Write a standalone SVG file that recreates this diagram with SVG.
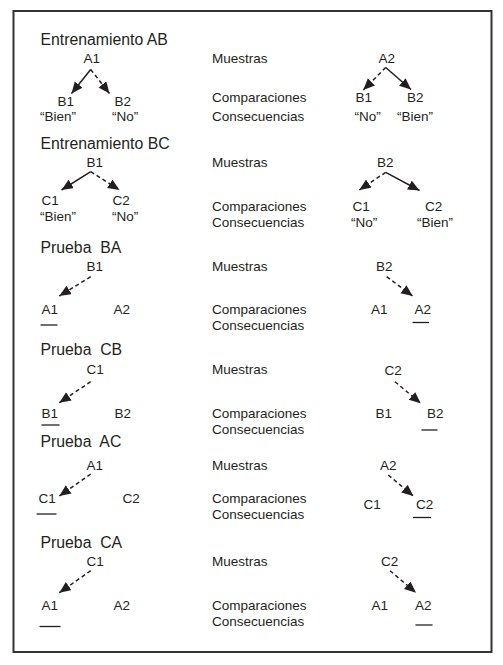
<svg xmlns="http://www.w3.org/2000/svg" width="503" height="665" viewBox="0 0 503 665">
<defs>
<marker id="ah" markerUnits="userSpaceOnUse" markerWidth="13" markerHeight="11" refX="11.5" refY="5" orient="auto">
<path d="M0,0 L11.5,5 L0,10 z" fill="#231f20"/>
</marker>
</defs>
<style>
text{font-family:"Liberation Sans",Arial,sans-serif;fill:#231f20}
.t{font-size:15.8px}
.l{font-size:13.5px}
.s{stroke:#231f20;stroke-width:1.5;fill:none}
.d{stroke-dasharray:4 3}
.u{stroke:#231f20;stroke-width:1.3}
</style>
<rect x="13.5" y="11" width="478" height="641" fill="#fff" stroke="#333" stroke-width="2"/>

<g id="trainAB">
<text class="t" x="40.5" y="45">Entrenamiento AB</text>
<text class="l" x="83.5" y="63">A1</text>
<text class="l" x="57.5" y="106">B1</text>
<text class="l" x="40" y="120.5">“Bien”</text>
<text class="l" x="114.5" y="106">B2</text>
<text class="l" x="112" y="120.5">“No”</text>
<text class="l" x="212" y="63">Muestras</text>
<text class="l" x="212" y="102">Comparaciones</text>
<text class="l" x="212" y="121">Consecuencias</text>
<text class="l" x="378.5" y="63">A2</text>
<text class="l" x="355.5" y="102">B1</text>
<text class="l" x="407" y="102">B2</text>
<text class="l" x="354.5" y="120.5">“No”</text>
<text class="l" x="397" y="120.5">“Bien”</text>
</g>

<g id="trainBC">
<text class="t" x="40.5" y="148.5">Entrenamiento BC</text>
<text class="l" x="86.5" y="167">B1</text>
<text class="l" x="41.5" y="205">C1</text>
<text class="l" x="40" y="221">“Bien”</text>
<text class="l" x="112.5" y="205">C2</text>
<text class="l" x="112" y="221">“No”</text>
<text class="l" x="212" y="167">Muestras</text>
<text class="l" x="212" y="211">Comparaciones</text>
<text class="l" x="212" y="227">Consecuencias</text>
<text class="l" x="377" y="167">B2</text>
<text class="l" x="352.5" y="211">C1</text>
<text class="l" x="425" y="211">C2</text>
<text class="l" x="351" y="227">“No”</text>
<text class="l" x="417" y="227">“Bien”</text>
</g>

<g id="testBA">
<text class="t" x="40.5" y="252.5" xml:space="preserve">Prueba  BA</text>
<text class="l" x="86.5" y="271">B1</text>
<text class="l" x="41.5" y="314">A1</text>
<text class="l" x="113.5" y="314">A2</text>
<line class="u" x1="40.5" y1="325" x2="57.5" y2="325"/>
<text class="l" x="212" y="271">Muestras</text>
<text class="l" x="212" y="313.5">Comparaciones</text>
<text class="l" x="212" y="329.5">Consecuencias</text>
<text class="l" x="376" y="271">B2</text>
<text class="l" x="371" y="313.5">A1</text>
<text class="l" x="414.5" y="313.5">A2</text>
<line class="u" x1="412.5" y1="322.5" x2="429" y2="322.5"/>
</g>

<g id="testCB">
<text class="t" x="40.5" y="355" xml:space="preserve">Prueba  CB</text>
<text class="l" x="86.5" y="373.5">C1</text>
<text class="l" x="41.5" y="417.5">B1</text>
<text class="l" x="114.5" y="417.5">B2</text>
<line class="u" x1="41.5" y1="425" x2="59.5" y2="425"/>
<text class="l" x="212" y="373.5">Muestras</text>
<text class="l" x="212" y="417.5">Comparaciones</text>
<text class="l" x="212" y="433.5">Consecuencias</text>
<text class="l" x="384.5" y="374.5">C2</text>
<text class="l" x="375.5" y="417.5">B1</text>
<text class="l" x="427" y="417.5">B2</text>
<line class="u" x1="421.5" y1="430" x2="437.5" y2="430"/>
</g>

<g id="testAC">
<text class="t" x="40.5" y="447" xml:space="preserve">Prueba  AC</text>
<text class="l" x="86.5" y="469.5">A1</text>
<text class="l" x="38.5" y="502.5">C1</text>
<text class="l" x="122.5" y="502.5">C2</text>
<line class="u" x1="36.5" y1="514" x2="56.5" y2="514"/>
<text class="l" x="212" y="469.5">Muestras</text>
<text class="l" x="212" y="502.5">Comparaciones</text>
<text class="l" x="212" y="518.5">Consecuencias</text>
<text class="l" x="380" y="469.5">A2</text>
<text class="l" x="363.5" y="508.5">C1</text>
<text class="l" x="416" y="508.5">C2</text>
<line class="u" x1="413" y1="517.5" x2="431" y2="517.5"/>
</g>

<g id="testCA">
<text class="t" x="40.5" y="547.5" xml:space="preserve">Prueba  CA</text>
<text class="l" x="86.5" y="566">C1</text>
<text class="l" x="41.5" y="610">A1</text>
<text class="l" x="113.5" y="610">A2</text>
<line class="u" x1="39.5" y1="626.5" x2="60.5" y2="626.5"/>
<text class="l" x="212" y="566">Muestras</text>
<text class="l" x="212" y="610">Comparaciones</text>
<text class="l" x="212" y="626">Consecuencias</text>
<text class="l" x="381" y="566">C2</text>
<text class="l" x="371.5" y="610">A1</text>
<text class="l" x="415" y="610">A2</text>
<line class="u" x1="415.5" y1="625" x2="432.5" y2="625"/>
</g>

<g id="connectors">
<line class="s" x1="90.7" y1="69.5" x2="71.5" y2="93.5" marker-end="url(#ah)"/>
<line class="s d" x1="90.7" y1="69.5" x2="109.5" y2="93.5" marker-end="url(#ah)"/>
<line class="s d" x1="385.7" y1="67.5" x2="363.3" y2="90" marker-end="url(#ah)"/>
<line class="s" x1="385.7" y1="67.5" x2="411" y2="89.5" marker-end="url(#ah)"/>

<line class="s" x1="90.7" y1="171.7" x2="61.5" y2="190" marker-end="url(#ah)"/>
<line class="s d" x1="90.7" y1="171.7" x2="119.5" y2="190" marker-end="url(#ah)"/>
<line class="s d" x1="385.7" y1="172.3" x2="359.3" y2="190" marker-end="url(#ah)"/>
<line class="s" x1="385.7" y1="172.3" x2="419.5" y2="190.5" marker-end="url(#ah)"/>

<line class="s d" x1="90.7" y1="276.7" x2="59.3" y2="296" marker-end="url(#ah)"/>
<line class="s d" x1="386.7" y1="276.7" x2="412.7" y2="296" marker-end="url(#ah)"/>

<line class="s d" x1="90.7" y1="381.7" x2="59.3" y2="402.7" marker-end="url(#ah)"/>
<line class="s d" x1="395" y1="381.7" x2="420.7" y2="403.3" marker-end="url(#ah)"/>

<line class="s d" x1="90.7" y1="474" x2="59.3" y2="496" marker-end="url(#ah)"/>
<line class="s d" x1="388.3" y1="475" x2="413.3" y2="496" marker-end="url(#ah)"/>

<line class="s d" x1="90.7" y1="570.7" x2="59.3" y2="592.7" marker-end="url(#ah)"/>
<line class="s d" x1="390" y1="570.7" x2="416" y2="592.7" marker-end="url(#ah)"/>
</g>
</svg>
